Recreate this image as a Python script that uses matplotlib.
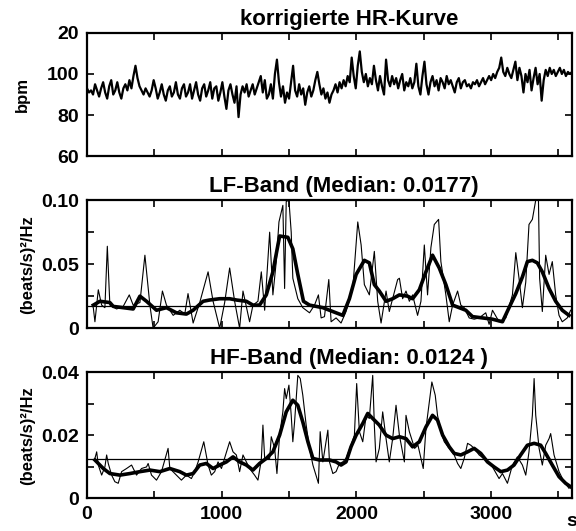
import numpy as np
import matplotlib
matplotlib.use("Agg")
import matplotlib.pyplot as plt

plt.rcParams['font.family'] = ['Liberation Sans', 'DejaVu Sans']
plt.rcParams['font.weight'] = 'bold'
plt.rcParams['axes.titleweight'] = 'bold'
plt.rcParams['axes.labelweight'] = 'bold'

# corrected heart rate curve, one value every 15 s (0 .. 3600 s)
hr_t = np.arange(0, 3601, 15)
hr_bpm = [
    93, 91, 92, 90, 95, 92, 89, 93, 96, 91,
    88, 94, 97, 90, 92, 96, 91, 88, 93, 95,
    92, 97, 93, 99, 104, 98, 94, 92, 90, 93,
    91, 89, 92, 97, 93, 88, 91, 95, 90, 87,
    92, 94, 89, 91, 96, 90, 88, 93, 95, 89,
    91, 95, 88, 92, 96, 90, 87, 93, 95, 89,
    92, 96, 88, 93, 94, 87, 91, 96, 89, 83,
    92, 95, 90, 86, 94, 79, 90, 94, 91, 95,
    89, 92, 95, 90, 93, 96, 99, 91, 97, 88,
    90, 95, 88, 100, 107, 96, 89, 94, 86, 91,
    88, 96, 104, 92, 89, 95, 90, 93, 85, 91,
    94, 89, 92, 97, 101, 95, 90, 93, 88, 91,
    86, 90, 92, 95, 91, 96, 93, 97, 94, 99,
    96, 108, 99, 93, 104, 111, 101, 96, 100, 94,
    98, 95, 104, 97, 92, 99, 94, 90, 107, 97,
    94, 99, 95, 98, 93, 97, 100, 92, 96, 94,
    98, 93, 96, 105, 94, 90, 99, 106, 95, 90,
    96, 99, 94, 97, 92, 98, 96, 93, 99, 95,
    97, 94, 91, 96, 98, 93, 96, 97, 94, 95,
    93, 96, 95, 97, 94, 96, 98, 95, 97, 99,
    97, 100, 98, 101, 103, 108, 101, 99, 103, 100,
    98, 102, 106, 97, 103, 99, 91, 100, 96, 102,
    92, 98, 103, 95, 100, 87, 97, 102, 99, 103,
    100, 102, 99, 101, 103, 100, 102, 99, 101, 100, 101,
]

# LF band power: raw trace and smoothed trace
lf_t = [47, 59, 84, 109, 133, 151, 170, 220, 269, 314, 343, 393, 430, 467, 491,
        528, 560, 590, 640, 689, 726, 750, 788, 837, 899, 936, 985, 1022, 1059,
        1096, 1133, 1158, 1207, 1232, 1269, 1294, 1319, 1356, 1380, 1405, 1425,
        1454, 1467, 1479, 1499, 1516, 1528, 1565, 1602, 1652, 1689, 1718, 1738,
        1763, 1795, 1812, 1849, 1886, 1923, 1973, 2010, 2035, 2059, 2096, 2133,
        2158, 2183, 2220, 2244, 2306, 2319, 2343, 2368, 2393, 2417, 2454, 2479,
        2504, 2528, 2553, 2578, 2610, 2627, 2664, 2689, 2714, 2751, 2775, 2800,
        2837, 2874, 2911, 2960, 2985, 3010, 3059, 3109, 3158, 3183, 3207, 3232,
        3257, 3281, 3306, 3331, 3351, 3360, 3380, 3405, 3430, 3454, 3479, 3504,
        3528, 3565, 3590]
lf_raw = [0.016, 0.005, 0.030, 0.018, 0.016, 0.064, 0.018, 0.015, 0.017, 0.026,
          0.018, 0.020, 0.057, 0.018, 0.000, 0.005, 0.029, 0.018, 0.010, 0.014,
          0.011, 0.027, 0.004, 0.020, 0.044, 0.021, 0.000, 0.020, 0.047, 0.021,
          0.000, 0.029, 0.005, 0.018, 0.021, 0.044, 0.014, 0.075, 0.026, 0.052,
          0.083, 0.096, 0.031, 0.099, 0.100, 0.075, 0.039, 0.023, 0.016, 0.012,
          0.018, 0.026, 0.008, 0.009, 0.038, 0.005, 0.008, 0.004, 0.013, 0.031,
          0.083, 0.065, 0.034, 0.026, 0.060, 0.021, 0.004, 0.029, 0.013, 0.038,
          0.039, 0.023, 0.029, 0.021, 0.026, 0.010, 0.021, 0.065, 0.026, 0.063,
          0.081, 0.085, 0.052, 0.026, 0.005, 0.018, 0.029, 0.018, 0.016, 0.008,
          0.007, 0.008, 0.012, 0.003, 0.014, 0.005, 0.008, 0.026, 0.059, 0.039,
          0.016, 0.036, 0.081, 0.085, 0.100, 0.102, 0.039, 0.013, 0.057, 0.042,
          0.052, 0.026, 0.010, 0.005, 0.008, 0.014]
lf_st = [47, 96, 170, 195, 269, 343, 393, 442, 516, 590, 664, 738, 788, 862, 911,
         985, 1059, 1109, 1183, 1232, 1281, 1331, 1380, 1430, 1491, 1528, 1565,
         1607, 1652, 1751, 1849, 1899, 1948, 1998, 2059, 2096, 2133, 2170, 2220,
         2269, 2319, 2380, 2417, 2467, 2516, 2565, 2615, 2664, 2714, 2763, 2812,
         2862, 2936, 3010, 3084, 3133, 3183, 3232, 3269, 3306, 3343, 3380, 3430,
         3479, 3528, 3578]
lf_smooth = [0.018, 0.021, 0.020, 0.017, 0.016, 0.015, 0.025, 0.021, 0.014, 0.016,
             0.012, 0.011, 0.014, 0.021, 0.022, 0.023, 0.023, 0.022, 0.021, 0.018,
             0.018, 0.026, 0.044, 0.072, 0.071, 0.062, 0.042, 0.021, 0.018, 0.016,
             0.012, 0.010, 0.023, 0.042, 0.053, 0.051, 0.034, 0.029, 0.021, 0.023,
             0.026, 0.025, 0.023, 0.030, 0.044, 0.057, 0.047, 0.034, 0.018, 0.016,
             0.014, 0.009, 0.008, 0.007, 0.005, 0.016, 0.027, 0.040, 0.052, 0.053,
             0.051, 0.044, 0.031, 0.021, 0.014, 0.010]
lf_median = 0.0177

# HF band power: raw trace and smoothed trace
hf_t = [59, 72, 84, 109, 133, 146, 158, 183, 207, 232, 257, 294, 331, 368, 405,
        442, 454, 479, 516, 553, 602, 615, 664, 701, 738, 775, 800, 825, 867,
        899, 923, 948, 973, 998, 1059, 1084, 1109, 1133, 1158, 1183, 1207, 1244,
        1269, 1294, 1306, 1319, 1356, 1368, 1393, 1410, 1430, 1454, 1467, 1479,
        1499, 1516, 1528, 1541, 1565, 1583, 1602, 1627, 1652, 1677, 1696, 1718,
        1731, 1751, 1788, 1800, 1825, 1849, 1874, 1899, 1923, 1960, 1985, 2002,
        2022, 2047, 2072, 2096, 2121, 2133, 2146, 2170, 2195, 2220, 2244, 2269,
        2294, 2319, 2356, 2368, 2393, 2432, 2457, 2479, 2496, 2516, 2541, 2560,
        2585, 2602, 2627, 2652, 2689, 2726, 2751, 2775, 2800, 2825, 2849, 2874,
        2911, 2960, 3010, 3059, 3084, 3121, 3158, 3195, 3232, 3257, 3281, 3306,
        3319, 3331, 3356, 3380, 3405, 3430, 3442, 3467, 3504, 3541, 3578]
hf_raw = [0.0126, 0.0147, 0.0105, 0.0073, 0.0099, 0.0137, 0.0110, 0.0073, 0.0052,
          0.0047, 0.0084, 0.0094, 0.0105, 0.0073, 0.0094, 0.0099, 0.0110, 0.0073,
          0.0057, 0.0084, 0.0158, 0.0094, 0.0073, 0.0057, 0.0073, 0.0062, 0.0084,
          0.0115, 0.0179, 0.0105, 0.0073, 0.0084, 0.0115, 0.0094, 0.0179, 0.0147,
          0.0137, 0.0084, 0.0137, 0.0115, 0.0094, 0.0073, 0.0057, 0.0121, 0.0232,
          0.0126, 0.0126, 0.0195, 0.0158, 0.0078, 0.0200, 0.0274, 0.0348, 0.0316,
          0.0359, 0.0263, 0.0179, 0.0242, 0.0390, 0.0380, 0.0327, 0.0232, 0.0158,
          0.0105, 0.0078, 0.0047, 0.0211, 0.0115, 0.0216, 0.0115, 0.0078, 0.0084,
          0.0110, 0.0115, 0.0126, 0.0168, 0.0200, 0.0364, 0.0211, 0.0179, 0.0263,
          0.0253, 0.0390, 0.0232, 0.0115, 0.0158, 0.0274, 0.0189, 0.0115, 0.0189,
          0.0295, 0.0200, 0.0115, 0.0263, 0.0211, 0.0158, 0.0168, 0.0126, 0.0094,
          0.0221, 0.0306, 0.0369, 0.0327, 0.0263, 0.0211, 0.0179, 0.0158, 0.0137,
          0.0110, 0.0094, 0.0126, 0.0174, 0.0168, 0.0158, 0.0137, 0.0121, 0.0099,
          0.0062, 0.0078, 0.0047, 0.0105, 0.0131, 0.0105, 0.0073, 0.0147, 0.0263,
          0.0380, 0.0263, 0.0158, 0.0105, 0.0168, 0.0189, 0.0205, 0.0137, 0.0084,
          0.0052, 0.0031]
hf_st = [59, 121, 170, 244, 319, 393, 467, 541, 615, 689, 738, 788, 837, 886, 936,
         985, 1035, 1084, 1133, 1183, 1232, 1281, 1331, 1380, 1430, 1479, 1528,
         1565, 1602, 1640, 1677, 1726, 1800, 1849, 1886, 1923, 1960, 1998, 2047,
         2084, 2121, 2170, 2220, 2269, 2319, 2368, 2417, 2467, 2516, 2565, 2602,
         2640, 2689, 2726, 2775, 2825, 2874, 2923, 2973, 3022, 3072, 3121, 3170,
         3219, 3269, 3319, 3368, 3405, 3454, 3504, 3553, 3590]
hf_smooth = [0.0121, 0.0094, 0.0078, 0.0073, 0.0078, 0.0084, 0.0089, 0.0084, 0.0094,
             0.0084, 0.0073, 0.0078, 0.0105, 0.0110, 0.0094, 0.0105, 0.0115, 0.0131,
             0.0115, 0.0105, 0.0089, 0.0110, 0.0126, 0.0147, 0.0200, 0.0274, 0.0311,
             0.0295, 0.0242, 0.0179, 0.0126, 0.0121, 0.0121, 0.0115, 0.0105, 0.0115,
             0.0163, 0.0200, 0.0237, 0.0269, 0.0253, 0.0232, 0.0200, 0.0189, 0.0195,
             0.0189, 0.0163, 0.0179, 0.0226, 0.0263, 0.0248, 0.0200, 0.0163, 0.0142,
             0.0137, 0.0147, 0.0158, 0.0142, 0.0115, 0.0099, 0.0084, 0.0089, 0.0105,
             0.0137, 0.0168, 0.0174, 0.0168, 0.0142, 0.0105, 0.0068, 0.0047, 0.0036]
hf_median = 0.0124

x_ticks = [0, 500, 1000, 1500, 2000, 2500, 3000, 3500]
x_labels = ['0', '', '1000', '', '2000', '', '3000', '']

fig = plt.figure(figsize=(5.76, 5.31), dpi=100)
ax1 = fig.add_axes([0.151, 0.706, 0.842, 0.232])
ax2 = fig.add_axes([0.151, 0.382, 0.842, 0.241])
ax3 = fig.add_axes([0.151, 0.062, 0.842, 0.237])

for ax in (ax1, ax2, ax3):
    ax.set_xlim(0, 3600)
    ax.set_xticks(x_ticks)
    ax.tick_params(direction='in', top=True, right=True, length=5, width=1.2,
                   labelsize=14, pad=6)
    for sp in ax.spines.values():
        sp.set_linewidth(1.6)

# top: HR curve
ax1.plot(hr_t, hr_bpm, color='black', lw=1.6)
ax1.set_ylim(60, 120)
ax1.set_yticks([60, 80, 100, 120], ['60', '80', '100', '20'])
ax1.set_xticklabels([])
ax1.set_ylabel('bpm', fontsize=12, labelpad=12)
ax1.set_title('korrigierte HR-Kurve', fontsize=16, x=0.54, pad=6)

# middle: LF band
ax2.plot(lf_t, lf_raw, color='black', lw=0.8)
ax2.plot(lf_st, lf_smooth, color='black', lw=2.6)
ax2.axhline(lf_median, color='black', lw=0.9)
ax2.set_ylim(0, 0.1)
ax2.set_yticks([0, 0.025, 0.05, 0.075, 0.1], ['0', '', '0.05', '', '0.10'])
ax2.set_xticklabels([])
ax2.set_ylabel('(beats/s)²/Hz', fontsize=12, labelpad=4)
ax2.set_title('LF-Band (Median: 0.0177)', fontsize=16, x=0.53, pad=6)

# bottom: HF band
ax3.plot(hf_t, hf_raw, color='black', lw=0.8)
ax3.plot(hf_st, hf_smooth, color='black', lw=2.6)
ax3.axhline(hf_median, color='black', lw=0.9)
ax3.set_ylim(0, 0.04)
ax3.set_yticks([0, 0.01, 0.02, 0.03, 0.04], ['0', '', '0.02', '', '0.04'])
ax3.set_xticklabels(x_labels)
ax3.set_ylabel('(beats/s)²/Hz', fontsize=12, labelpad=4)
ax3.set_title('HF-Band (Median: 0.0124 )', fontsize=16, x=0.54, pad=6)
ax3.annotate('s', xy=(1, 0), xycoords='axes fraction', xytext=(0, -11),
             textcoords='offset points', ha='center', va='top', fontsize=14)

fig.savefig('out.png', dpi=100)
